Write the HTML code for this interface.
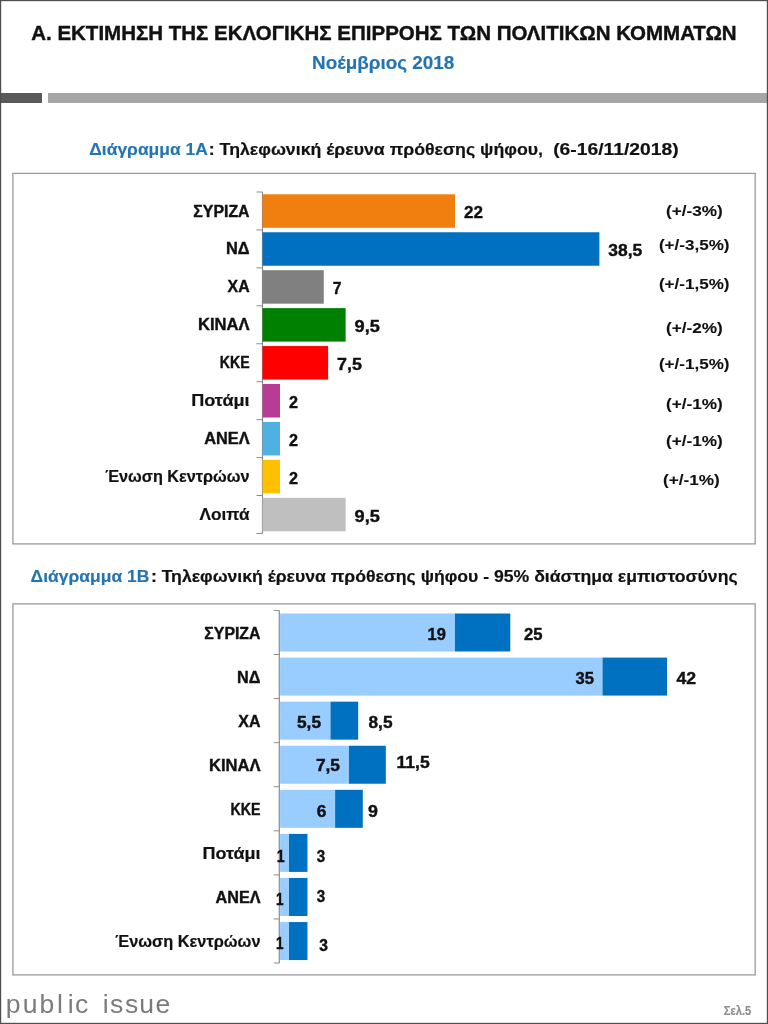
<!DOCTYPE html>
<html lang="el">
<head>
<meta charset="utf-8">
<title>Public Issue - Εκτίμηση εκλογικής επιρροής, Νοέμβριος 2018</title>
<style>
html,body{margin:0;padding:0;background:#fff;}
body{width:768px;height:1024px;overflow:hidden;}
svg{display:block;font-family:'Liberation Sans', sans-serif;}
</style>
</head>
<body>
<svg width="768" height="1024" viewBox="0 0 768 1024">
<rect x="0.00" y="0.00" width="768.00" height="1024.00" fill="#fff" />
<text x="31.20" y="39.80" font-size="20.4" font-weight="bold" fill="#111" text-anchor="start" textLength="705.50" lengthAdjust="spacingAndGlyphs"  stroke="#111" stroke-width="0.4">Α. ΕΚΤΙΜΗΣΗ ΤΗΣ ΕΚΛΟΓΙΚΗΣ ΕΠΙΡΡΟΗΣ ΤΩΝ ΠΟΛΙΤΙΚΩΝ ΚΟΜΜΑΤΩΝ</text>
<text x="312.00" y="69.00" font-size="17.6" font-weight="bold" fill="#2474b2" text-anchor="start" textLength="142.30" lengthAdjust="spacingAndGlyphs"  stroke="#2474b2" stroke-width="0.15">Νοέμβριος 2018</text>
<rect x="0.00" y="93.00" width="42.00" height="10.00" fill="#595959" />
<rect x="48.00" y="93.00" width="720.00" height="10.00" fill="#a6a6a6" />
<text x="89.30" y="154.90" font-size="17.4" font-weight="bold" fill="#2474b2" text-anchor="start" textLength="118.50" lengthAdjust="spacingAndGlyphs"  stroke="#2474b2" stroke-width="0.15">Διάγραμμα 1Α</text>
<text x="208.80" y="154.90" font-size="17.4" font-weight="bold" fill="#111" text-anchor="start" textLength="334.20" lengthAdjust="spacingAndGlyphs"  stroke="#111" stroke-width="0.2">: Τηλεφωνική έρευνα πρόθεσης ψήφου,</text>
<text x="553.20" y="154.90" font-size="17.4" font-weight="bold" fill="#111" text-anchor="start" textLength="125.50" lengthAdjust="spacingAndGlyphs"  stroke="#111" stroke-width="0.2">(6-16/11/2018)</text>
<rect x="12.9" y="173.4" width="742.3" height="370.5" fill="#fff" stroke="#9a9a9a" stroke-width="1.3"/>
<line x1="262.50" y1="192.00" x2="262.50" y2="533.46" stroke="#8c8c8c" stroke-width="1.2"/>
<line x1="256.50" y1="192.00" x2="262.50" y2="192.00" stroke="#8c8c8c" stroke-width="1"/>
<line x1="256.50" y1="229.94" x2="262.50" y2="229.94" stroke="#8c8c8c" stroke-width="1"/>
<line x1="256.50" y1="267.88" x2="262.50" y2="267.88" stroke="#8c8c8c" stroke-width="1"/>
<line x1="256.50" y1="305.82" x2="262.50" y2="305.82" stroke="#8c8c8c" stroke-width="1"/>
<line x1="256.50" y1="343.76" x2="262.50" y2="343.76" stroke="#8c8c8c" stroke-width="1"/>
<line x1="256.50" y1="381.70" x2="262.50" y2="381.70" stroke="#8c8c8c" stroke-width="1"/>
<line x1="256.50" y1="419.64" x2="262.50" y2="419.64" stroke="#8c8c8c" stroke-width="1"/>
<line x1="256.50" y1="457.58" x2="262.50" y2="457.58" stroke="#8c8c8c" stroke-width="1"/>
<line x1="256.50" y1="495.52" x2="262.50" y2="495.52" stroke="#8c8c8c" stroke-width="1"/>
<line x1="256.50" y1="533.46" x2="262.50" y2="533.46" stroke="#8c8c8c" stroke-width="1"/>
<rect x="262.50" y="194.30" width="192.50" height="33.50" fill="#f07f0f" />
<text x="249.60" y="216.50" font-size="16.8" font-weight="bold" fill="#111" text-anchor="end" textLength="56.30" lengthAdjust="spacingAndGlyphs"  stroke="#111" stroke-width="0.4">ΣΥΡΙΖΑ</text>
<text x="464.00" y="218.10" font-size="16.0" font-weight="bold" fill="#111" text-anchor="start" textLength="18.90" lengthAdjust="spacingAndGlyphs"  stroke="#111" stroke-width="0.4">22</text>
<rect x="262.50" y="232.24" width="336.88" height="33.50" fill="#0070c0" />
<text x="249.60" y="254.44" font-size="16.8" font-weight="bold" fill="#111" text-anchor="end" textLength="23.60" lengthAdjust="spacingAndGlyphs"  stroke="#111" stroke-width="0.4">ΝΔ</text>
<text x="608.38" y="256.04" font-size="16.0" font-weight="bold" fill="#111" text-anchor="start" textLength="33.90" lengthAdjust="spacingAndGlyphs"  stroke="#111" stroke-width="0.4">38,5</text>
<rect x="262.50" y="270.18" width="61.25" height="33.50" fill="#808080" />
<text x="249.60" y="292.38" font-size="16.8" font-weight="bold" fill="#111" text-anchor="end" textLength="22.00" lengthAdjust="spacingAndGlyphs"  stroke="#111" stroke-width="0.4">ΧΑ</text>
<text x="332.75" y="293.98" font-size="16.0" font-weight="bold" fill="#111" text-anchor="start" textLength="8.70" lengthAdjust="spacingAndGlyphs"  stroke="#111" stroke-width="0.4">7</text>
<rect x="262.50" y="308.12" width="83.12" height="33.50" fill="#008000" />
<text x="249.60" y="330.32" font-size="16.8" font-weight="bold" fill="#111" text-anchor="end" textLength="51.60" lengthAdjust="spacingAndGlyphs"  stroke="#111" stroke-width="0.4">ΚΙΝΑΛ</text>
<text x="354.62" y="331.92" font-size="16.0" font-weight="bold" fill="#111" text-anchor="start" textLength="25.20" lengthAdjust="spacingAndGlyphs"  stroke="#111" stroke-width="0.4">9,5</text>
<rect x="262.50" y="346.06" width="65.62" height="33.50" fill="#ff0000" />
<text x="249.60" y="368.26" font-size="16.8" font-weight="bold" fill="#111" text-anchor="end" textLength="29.80" lengthAdjust="spacingAndGlyphs"  stroke="#111" stroke-width="0.4">ΚΚΕ</text>
<text x="337.12" y="369.86" font-size="16.0" font-weight="bold" fill="#111" text-anchor="start" textLength="24.80" lengthAdjust="spacingAndGlyphs"  stroke="#111" stroke-width="0.4">7,5</text>
<rect x="262.50" y="384.00" width="17.50" height="33.50" fill="#b83c96" />
<text x="249.60" y="406.20" font-size="16.5" font-weight="bold" fill="#111" text-anchor="end" textLength="58.30" lengthAdjust="spacingAndGlyphs"  stroke="#111" stroke-width="0.2">Ποτάμι</text>
<text x="289.00" y="407.80" font-size="16.0" font-weight="bold" fill="#111" text-anchor="start" textLength="9.00" lengthAdjust="spacingAndGlyphs"  stroke="#111" stroke-width="0.4">2</text>
<rect x="262.50" y="421.94" width="17.50" height="33.50" fill="#4eb1e2" />
<text x="249.60" y="444.14" font-size="16.8" font-weight="bold" fill="#111" text-anchor="end" textLength="45.40" lengthAdjust="spacingAndGlyphs"  stroke="#111" stroke-width="0.4">ΑΝΕΛ</text>
<text x="289.00" y="445.74" font-size="16.0" font-weight="bold" fill="#111" text-anchor="start" textLength="9.00" lengthAdjust="spacingAndGlyphs"  stroke="#111" stroke-width="0.4">2</text>
<rect x="262.50" y="459.88" width="17.50" height="33.50" fill="#ffc000" />
<text x="249.60" y="482.08" font-size="16.5" font-weight="bold" fill="#111" text-anchor="end" textLength="144.40" lengthAdjust="spacingAndGlyphs"  stroke="#111" stroke-width="0.2">Ένωση Κεντρώων</text>
<text x="289.00" y="483.68" font-size="16.0" font-weight="bold" fill="#111" text-anchor="start" textLength="9.00" lengthAdjust="spacingAndGlyphs"  stroke="#111" stroke-width="0.4">2</text>
<rect x="262.50" y="497.82" width="83.12" height="33.50" fill="#bfbfbf" />
<text x="249.60" y="520.02" font-size="16.5" font-weight="bold" fill="#111" text-anchor="end" textLength="50.00" lengthAdjust="spacingAndGlyphs"  stroke="#111" stroke-width="0.2">Λοιπά</text>
<text x="354.62" y="521.62" font-size="16.0" font-weight="bold" fill="#111" text-anchor="start" textLength="25.20" lengthAdjust="spacingAndGlyphs"  stroke="#111" stroke-width="0.4">9,5</text>
<text x="666.00" y="216.10" font-size="15.5" font-weight="bold" fill="#111" text-anchor="start" textLength="56.80" lengthAdjust="spacingAndGlyphs"  stroke="#111" stroke-width="0.1">(+/-3%)</text>
<text x="658.90" y="249.50" font-size="15.5" font-weight="bold" fill="#111" text-anchor="start" textLength="70.60" lengthAdjust="spacingAndGlyphs"  stroke="#111" stroke-width="0.1">(+/-3,5%)</text>
<text x="658.90" y="288.60" font-size="15.5" font-weight="bold" fill="#111" text-anchor="start" textLength="70.60" lengthAdjust="spacingAndGlyphs"  stroke="#111" stroke-width="0.1">(+/-1,5%)</text>
<text x="666.00" y="332.80" font-size="15.5" font-weight="bold" fill="#111" text-anchor="start" textLength="56.80" lengthAdjust="spacingAndGlyphs"  stroke="#111" stroke-width="0.1">(+/-2%)</text>
<text x="658.90" y="368.60" font-size="15.5" font-weight="bold" fill="#111" text-anchor="start" textLength="70.60" lengthAdjust="spacingAndGlyphs"  stroke="#111" stroke-width="0.1">(+/-1,5%)</text>
<text x="666.00" y="409.10" font-size="15.5" font-weight="bold" fill="#111" text-anchor="start" textLength="56.80" lengthAdjust="spacingAndGlyphs"  stroke="#111" stroke-width="0.1">(+/-1%)</text>
<text x="666.00" y="446.10" font-size="15.5" font-weight="bold" fill="#111" text-anchor="start" textLength="56.80" lengthAdjust="spacingAndGlyphs"  stroke="#111" stroke-width="0.1">(+/-1%)</text>
<text x="663.00" y="485.30" font-size="15.5" font-weight="bold" fill="#111" text-anchor="start" textLength="56.80" lengthAdjust="spacingAndGlyphs"  stroke="#111" stroke-width="0.1">(+/-1%)</text>
<text x="30.60" y="582.30" font-size="17.4" font-weight="bold" fill="#2474b2" text-anchor="start" textLength="118.80" lengthAdjust="spacingAndGlyphs"  stroke="#2474b2" stroke-width="0.15">Διάγραμμα 1Β</text>
<text x="150.90" y="582.30" font-size="17.4" font-weight="bold" fill="#111" text-anchor="start" textLength="586.70" lengthAdjust="spacingAndGlyphs"  stroke="#111" stroke-width="0.2">: Τηλεφωνική έρευνα πρόθεσης ψήφου - 95% διάστημα εμπιστοσύνης</text>
<rect x="12.9" y="603.9" width="742.3" height="371" fill="#fff" stroke="#9a9a9a" stroke-width="1.3"/>
<line x1="279.30" y1="610.40" x2="279.30" y2="963.04" stroke="#8c8c8c" stroke-width="1.2"/>
<line x1="273.80" y1="610.40" x2="279.30" y2="610.40" stroke="#8c8c8c" stroke-width="1"/>
<line x1="273.80" y1="654.48" x2="279.30" y2="654.48" stroke="#8c8c8c" stroke-width="1"/>
<line x1="273.80" y1="698.56" x2="279.30" y2="698.56" stroke="#8c8c8c" stroke-width="1"/>
<line x1="273.80" y1="742.64" x2="279.30" y2="742.64" stroke="#8c8c8c" stroke-width="1"/>
<line x1="273.80" y1="786.72" x2="279.30" y2="786.72" stroke="#8c8c8c" stroke-width="1"/>
<line x1="273.80" y1="830.80" x2="279.30" y2="830.80" stroke="#8c8c8c" stroke-width="1"/>
<line x1="273.80" y1="874.88" x2="279.30" y2="874.88" stroke="#8c8c8c" stroke-width="1"/>
<line x1="273.80" y1="918.96" x2="279.30" y2="918.96" stroke="#8c8c8c" stroke-width="1"/>
<line x1="273.80" y1="963.04" x2="279.30" y2="963.04" stroke="#8c8c8c" stroke-width="1"/>
<rect x="280.10" y="613.50" width="174.88" height="38.00" fill="#99ccff" />
<rect x="454.98" y="613.50" width="55.32" height="38.00" fill="#0070c0" />
<text x="260.50" y="638.50" font-size="16.8" font-weight="bold" fill="#111" text-anchor="end" textLength="56.20" lengthAdjust="spacingAndGlyphs"  stroke="#111" stroke-width="0.4">ΣΥΡΙΖΑ</text>
<text x="427.50" y="639.90" font-size="16.0" font-weight="bold" fill="#111" text-anchor="start" textLength="18.30" lengthAdjust="spacingAndGlyphs"  stroke="#111" stroke-width="0.4">19</text>
<text x="524.00" y="639.90" font-size="16.0" font-weight="bold" fill="#111" text-anchor="start" textLength="18.50" lengthAdjust="spacingAndGlyphs"  stroke="#111" stroke-width="0.4">25</text>
<rect x="280.10" y="657.58" width="322.40" height="38.00" fill="#99ccff" />
<rect x="602.50" y="657.58" width="64.54" height="38.00" fill="#0070c0" />
<text x="260.50" y="682.58" font-size="16.8" font-weight="bold" fill="#111" text-anchor="end" textLength="23.40" lengthAdjust="spacingAndGlyphs"  stroke="#111" stroke-width="0.4">ΝΔ</text>
<text x="575.60" y="683.98" font-size="16.0" font-weight="bold" fill="#111" text-anchor="start" textLength="18.40" lengthAdjust="spacingAndGlyphs"  stroke="#111" stroke-width="0.4">35</text>
<text x="676.40" y="683.98" font-size="16.0" font-weight="bold" fill="#111" text-anchor="start" textLength="19.60" lengthAdjust="spacingAndGlyphs"  stroke="#111" stroke-width="0.4">42</text>
<rect x="280.10" y="701.66" width="50.41" height="38.00" fill="#99ccff" />
<rect x="330.51" y="701.66" width="27.66" height="38.00" fill="#0070c0" />
<text x="260.50" y="726.66" font-size="16.8" font-weight="bold" fill="#111" text-anchor="end" textLength="22.20" lengthAdjust="spacingAndGlyphs"  stroke="#111" stroke-width="0.4">ΧΑ</text>
<text x="297.00" y="728.06" font-size="16.0" font-weight="bold" fill="#111" text-anchor="start" textLength="24.00" lengthAdjust="spacingAndGlyphs"  stroke="#111" stroke-width="0.4">5,5</text>
<text x="368.50" y="728.06" font-size="16.0" font-weight="bold" fill="#111" text-anchor="start" textLength="24.00" lengthAdjust="spacingAndGlyphs"  stroke="#111" stroke-width="0.4">8,5</text>
<rect x="280.10" y="745.74" width="68.85" height="38.00" fill="#99ccff" />
<rect x="348.95" y="745.74" width="36.88" height="38.00" fill="#0070c0" />
<text x="260.50" y="770.74" font-size="16.8" font-weight="bold" fill="#111" text-anchor="end" textLength="51.50" lengthAdjust="spacingAndGlyphs"  stroke="#111" stroke-width="0.4">ΚΙΝΑΛ</text>
<text x="315.90" y="770.94" font-size="16.0" font-weight="bold" fill="#111" text-anchor="start" textLength="24.00" lengthAdjust="spacingAndGlyphs"  stroke="#111" stroke-width="0.4">7,5</text>
<text x="396.60" y="768.34" font-size="16.0" font-weight="bold" fill="#111" text-anchor="start" textLength="33.10" lengthAdjust="spacingAndGlyphs"  stroke="#111" stroke-width="0.4">11,5</text>
<rect x="280.10" y="789.82" width="55.02" height="38.00" fill="#99ccff" />
<rect x="335.12" y="789.82" width="27.66" height="38.00" fill="#0070c0" />
<text x="260.50" y="814.82" font-size="16.8" font-weight="bold" fill="#111" text-anchor="end" textLength="30.00" lengthAdjust="spacingAndGlyphs"  stroke="#111" stroke-width="0.4">ΚΚΕ</text>
<text x="316.70" y="817.22" font-size="16.0" font-weight="bold" fill="#111" text-anchor="start" textLength="9.60" lengthAdjust="spacingAndGlyphs"  stroke="#111" stroke-width="0.4">6</text>
<text x="368.00" y="817.22" font-size="16.0" font-weight="bold" fill="#111" text-anchor="start" textLength="9.90" lengthAdjust="spacingAndGlyphs"  stroke="#111" stroke-width="0.4">9</text>
<rect x="280.10" y="833.90" width="8.92" height="38.00" fill="#99ccff" />
<rect x="289.02" y="833.90" width="18.44" height="38.00" fill="#0070c0" />
<text x="260.50" y="858.90" font-size="16.5" font-weight="bold" fill="#111" text-anchor="end" textLength="58.10" lengthAdjust="spacingAndGlyphs"  stroke="#111" stroke-width="0.2">Ποτάμι</text>
<text x="276.80" y="862.30" font-size="16.0" font-weight="bold" fill="#111" text-anchor="start" textLength="7.90" lengthAdjust="spacingAndGlyphs"  stroke="#111" stroke-width="0.4">1</text>
<text x="316.80" y="862.30" font-size="16.0" font-weight="bold" fill="#111" text-anchor="start" textLength="8.40" lengthAdjust="spacingAndGlyphs"  stroke="#111" stroke-width="0.4">3</text>
<rect x="280.10" y="877.98" width="8.92" height="38.00" fill="#99ccff" />
<rect x="289.02" y="877.98" width="18.44" height="38.00" fill="#0070c0" />
<text x="260.50" y="902.98" font-size="16.8" font-weight="bold" fill="#111" text-anchor="end" textLength="45.00" lengthAdjust="spacingAndGlyphs"  stroke="#111" stroke-width="0.4">ΑΝΕΛ</text>
<text x="276.00" y="905.38" font-size="16.0" font-weight="bold" fill="#111" text-anchor="start" textLength="7.50" lengthAdjust="spacingAndGlyphs"  stroke="#111" stroke-width="0.4">1</text>
<text x="316.80" y="902.38" font-size="16.0" font-weight="bold" fill="#111" text-anchor="start" textLength="8.40" lengthAdjust="spacingAndGlyphs"  stroke="#111" stroke-width="0.4">3</text>
<rect x="280.10" y="922.06" width="8.92" height="38.00" fill="#99ccff" />
<rect x="289.02" y="922.06" width="18.44" height="38.00" fill="#0070c0" />
<text x="260.50" y="947.06" font-size="16.5" font-weight="bold" fill="#111" text-anchor="end" textLength="145.30" lengthAdjust="spacingAndGlyphs"  stroke="#111" stroke-width="0.2">Ένωση Κεντρώων</text>
<text x="276.00" y="949.06" font-size="16.0" font-weight="bold" fill="#111" text-anchor="start" textLength="7.50" lengthAdjust="spacingAndGlyphs"  stroke="#111" stroke-width="0.4">1</text>
<text x="319.30" y="951.06" font-size="16.0" font-weight="bold" fill="#111" text-anchor="start" textLength="8.70" lengthAdjust="spacingAndGlyphs"  stroke="#111" stroke-width="0.4">3</text>
<text x="5.8 22.8 39.5 57 67.7 74.9 88 102.8 110.1 125.1 139.3 155.5" y="1012.6" font-size="26.5" font-weight="normal" fill="#7b7b7b">public issue</text>
<text x="723.70" y="1015.20" font-size="12" font-weight="bold" fill="#8c8c8c" text-anchor="start" textLength="27.60" lengthAdjust="spacingAndGlyphs"  stroke="#8c8c8c" stroke-width="0.1">Σελ.5</text>
<rect x="0.5" y="0.5" width="767" height="1023" fill="none" stroke="#4f4f4f" stroke-width="1.4"/>
</svg>
</body>
</html>
